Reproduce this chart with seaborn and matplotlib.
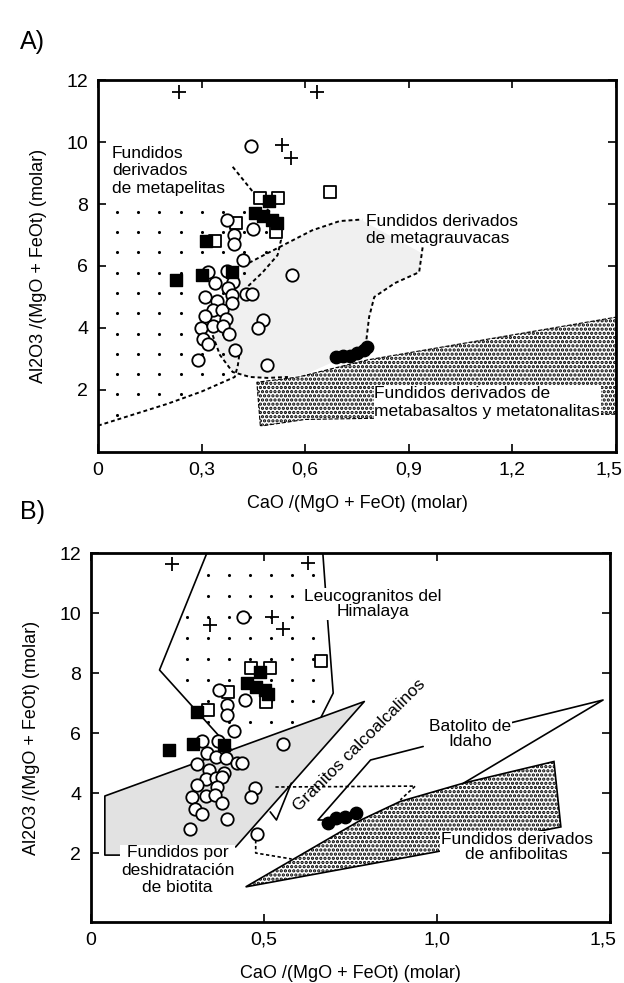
import numpy as np
import pandas as pd
import matplotlib
matplotlib.use("Agg")
import matplotlib.pyplot as plt
from matplotlib.path import Path
from matplotlib.transforms import ScaledTranslation
import seaborn as sns

sns.set_theme(style="white")
plt.rcParams['font.family'] = ['Liberation Sans', 'DejaVu Sans']
plt.rcParams['text.color'] = 'black'
plt.rcParams['axes.labelcolor'] = 'black'
plt.rcParams['hatch.linewidth'] = 1.6

# ---------------- Panel A data ----------------
a_cross_x = [0.234, 0.633, 0.532, 0.558]
a_cross_y = [11.6, 11.6, 9.9, 9.5]
a_osq_x = [0.468, 0.52, 0.673, 0.40, 0.34, 0.514]
a_osq_y = [8.2, 8.2, 8.4, 7.4, 6.8, 7.1]
a_fsq_x = [0.494, 0.454, 0.478, 0.503, 0.517, 0.312, 0.30, 0.225, 0.387]
a_fsq_y = [8.1, 7.7, 7.6, 7.5, 7.4, 6.8, 5.7, 5.55, 5.8]
a_oc_x = [0.442, 0.373, 0.393, 0.393, 0.448, 0.419, 0.318, 0.373, 0.338, 0.39,
          0.561, 0.376, 0.309, 0.344, 0.387, 0.428, 0.445, 0.332, 0.358, 0.387,
          0.309, 0.37, 0.477, 0.462, 0.298, 0.332, 0.361, 0.379, 0.303, 0.318,
          0.396, 0.289, 0.488]
a_oc_y = [9.87, 7.5, 7.0, 6.7, 7.2, 6.2, 5.8, 5.85, 5.45, 5.5,
          5.7, 5.3, 5.0, 4.87, 5.06, 5.1, 5.1, 4.58, 4.58, 4.8,
          4.39, 4.3, 4.26, 4.0, 4.0, 4.06, 4.06, 3.8, 3.65, 3.48,
          3.3, 2.97, 2.8]
a_fc_x = [0.69, 0.71, 0.73, 0.75, 0.77, 0.78]
a_fc_y = [3.05, 3.1, 3.1, 3.2, 3.3, 3.4]

# Panel A fields
a_pel_x = [0.0, 0.0, 0.39, 0.448, 0.50, 0.53, 0.52, 0.477, 0.43, 0.41, 0.40, 0.396]
a_pel_y = [0.85, 7.9, 9.2, 8.4, 7.7, 6.84, 6.35, 5.8, 5.3, 4.5, 3.2, 2.42]
a_pel_bx = [0.0, 0.10, 0.20, 0.30, 0.396, 0.405, 0.41]
a_pel_by = [0.85, 1.2, 1.55, 1.95, 2.42, 2.8, 3.2]
a_pel_tx = [0.39, 0.448, 0.50, 0.53, 0.52, 0.477, 0.43]
a_pel_ty = [9.2, 8.4, 7.7, 6.84, 6.35, 5.8, 5.3]
a_gr_x = [0.42, 0.48, 0.55, 0.62, 0.70, 0.76, 0.94, 0.93, 0.86, 0.80, 0.785, 0.777,
          0.70, 0.60, 0.55, 0.49, 0.44, 0.39, 0.353, 0.332, 0.40]
a_gr_y = [6.0, 6.35, 6.75, 7.15, 7.45, 7.5, 6.4, 5.8, 5.45, 5.0, 4.35, 3.6,
          3.0, 2.5, 2.42, 2.39, 2.42, 2.58, 3.13, 3.77, 4.8]
a_gr_top_x = [0.42, 0.48, 0.55, 0.62, 0.70, 0.765]
a_gr_top_y = [6.0, 6.35, 6.75, 7.15, 7.45, 7.5]
a_gr_r_x = [0.94, 0.935, 0.93, 0.86, 0.80, 0.785, 0.777]
a_gr_r_y = [6.6, 6.2, 5.8, 5.45, 5.0, 4.35, 3.6]
a_gr_b_x = [0.332, 0.353, 0.39, 0.44, 0.49, 0.55]
a_gr_b_y = [3.77, 3.13, 2.58, 2.42, 2.39, 2.42]
a_bas_x = [0.47, 0.46, 0.58, 0.78, 1.16, 1.5, 1.5, 0.60, 0.48]
a_bas_y = [0.85, 2.25, 2.42, 2.97, 3.7, 4.35, 1.22, 1.05, 0.85]

# ---------------- Panel B data ----------------
b_cross_x = [0.235, 0.627, 0.344, 0.522, 0.556]
b_cross_y = [11.63, 11.67, 9.6, 9.87, 9.47]
b_osq_x = [0.461, 0.516, 0.665, 0.395, 0.338, 0.507]
b_osq_y = [8.17, 8.17, 8.4, 7.37, 6.77, 7.03]
b_fsq_x = [0.487, 0.45, 0.478, 0.504, 0.513, 0.307, 0.295, 0.224, 0.384]
b_fsq_y = [8.03, 7.67, 7.53, 7.43, 7.3, 6.7, 5.63, 5.43, 5.6]
b_oc_x = [0.438, 0.37, 0.393, 0.393, 0.444, 0.413, 0.556, 0.321, 0.367, 0.335,
          0.36, 0.39, 0.307, 0.421, 0.436, 0.341, 0.384, 0.332, 0.361, 0.378,
          0.307, 0.364, 0.473, 0.292, 0.332, 0.358, 0.461, 0.378, 0.301, 0.321,
          0.393, 0.287, 0.481]
b_oc_y = [9.87, 7.43, 6.93, 6.6, 7.1, 6.07, 5.63, 5.73, 5.73, 5.33,
          5.2, 5.17, 4.97, 5.0, 5.0, 4.77, 4.67, 4.47, 4.5, 4.53,
          4.27, 4.2, 4.17, 3.87, 3.9, 3.93, 3.87, 3.67, 3.47, 3.3,
          3.13, 2.8, 2.63]
b_fc_x = [0.685, 0.708, 0.733, 0.765]
b_fc_y = [3.0, 3.17, 3.2, 3.33]

# Panel B fields
b_him_x = [0.335, 0.198, 0.407, 0.665, 0.70, 0.685, 0.67]
b_him_y = [12.0, 8.1, 5.43, 6.53, 7.33, 9.6, 12.0]
b_bio_x = [0.083, 0.04, 0.04, 0.79, 0.418]
b_bio_y = [1.93, 1.93, 3.9, 7.05, 2.2]
b_bio_fx = [0.04, 0.04, 0.79, 0.418, 0.35]
b_bio_fy = [1.93, 3.9, 7.05, 2.2, 1.95]
b_notch_x = [0.518, 0.536, 0.579]
b_notch_y = [3.37, 3.1, 4.33]
b_dash1_x = [0.476, 0.476, 0.58]
b_dash1_y = [2.43, 2.0, 1.8]
b_dash2_x = [0.533, 0.937, 0.894]
b_dash2_y = [4.2, 4.23, 3.77]
b_ida1_x = [0.74, 0.656, 0.808, 0.96]
b_ida1_y = [3.1, 3.1, 5.1, 5.55]
b_ida2_x = [1.21, 1.48, 1.077]
b_ida2_y = [6.33, 7.1, 4.33]
b_anf_x = [0.447, 0.78, 0.894, 1.077, 1.338, 1.358, 0.994]
b_anf_y = [0.87, 3.1, 3.72, 4.33, 5.05, 2.87, 2.03]

W, H = 624, 983
fig = plt.figure(figsize=(W / 100, H / 100), dpi=100)
axA = fig.add_axes([98 / W, 1 - 452 / H, (616 - 98) / W, 372 / H])
axB = fig.add_axes([91 / W, 1 - 922 / H, (610 - 91) / W, 369 / H])

FS = 12.5
MS = 70
LS = 1.2


def dot_grid(ax, px, py, x0, dx, y0, dy, ymax):
    path = Path(np.column_stack([px, py]))
    gx, gy = np.meshgrid(np.arange(x0, 1.6, dx), np.arange(y0, ymax, dy))
    pts = np.column_stack([gx.ravel(), gy.ravel()])
    inside = path.contains_points(pts)
    ax.scatter(pts[inside, 0], pts[inside, 1], s=5, color='black', lw=0, zorder=1)


def points(ax, cx, cy, osx, osy, fsx, fsy, ocx, ocy, fcx, fcy):
    sns.scatterplot(x=cx, y=cy, marker='+', s=110, color='black', linewidth=1.3, ax=ax, zorder=5)
    sns.scatterplot(x=osx, y=osy, marker='s', s=MS, facecolor='white', edgecolor='black', linewidth=1.3, ax=ax, zorder=5)
    sns.scatterplot(x=ocx, y=ocy, marker='o', s=MS + 10, facecolor='white', edgecolor='black', linewidth=1.3, ax=ax, zorder=6)
    sns.scatterplot(x=fsx, y=fsy, marker='s', s=MS, color='black', edgecolor='black', linewidth=1, ax=ax, zorder=7)
    sns.scatterplot(x=fcx, y=fcy, marker='o', s=MS + 10, color='black', edgecolor='black', linewidth=1, ax=ax, zorder=7)


def style_axes(ax, xt, xl, ylo):
    ax.set_xlim(0, 1.5)
    ax.set_ylim(ylo, 12)
    ax.set_xticks(xt)
    ax.set_xticklabels(xl)
    ax.set_yticks([2, 4, 6, 8, 10, 12])
    ax.set_yticklabels(['2', '4', '6', '8', '10', '12'])
    ax.tick_params(direction='in', length=6, width=1.2, top=True, right=True,
                   bottom=True, left=True, labelsize=14, pad=7, colors='black')
    for sp in ax.spines.values():
        sp.set_color('black')
        sp.set_linewidth(2)
    ax.set_xlabel('CaO /(MgO + FeOt) (molar)', fontsize=13, labelpad=12)
    ax.set_ylabel('Al2O3 /(MgO + FeOt) (molar)', fontsize=13, labelpad=14)
    last = ax.get_xticklabels()[-1]
    last.set_transform(last.get_transform() + ScaledTranslation(-0.07, 0, fig.dpi_scale_trans))


# ---------- Panel A ----------
ax = axA
ax.fill(a_gr_x, a_gr_y, facecolor='#f0f0f0', edgecolor='none', zorder=0)
dot_grid(ax, a_pel_x, a_pel_y, 0.055, 0.0615, 1.2, 0.655, 8.0)
ax.fill(a_bas_x, a_bas_y, facecolor='white', edgecolor='black', hatch='....', lw=0.8, ls='--', zorder=2)
for xs, ys in [(a_pel_bx, a_pel_by), (a_pel_tx, a_pel_ty), (a_gr_top_x, a_gr_top_y),
               (a_gr_r_x, a_gr_r_y), (a_gr_b_x, a_gr_b_y)]:
    ax.plot(xs, ys, color='black', ls=(0, (2, 1.5)), lw=1.4, zorder=3)
points(ax, a_cross_x, a_cross_y, a_osq_x, a_osq_y, a_fsq_x, a_fsq_y, a_oc_x, a_oc_y, a_fc_x, a_fc_y)
ax.text(0.04, 9.07, 'Fundidos\nderivados\nde metapelitas', fontsize=FS, ha='left', va='center',
        linespacing=LS, zorder=8)
ax.text(0.775, 7.16, 'Fundidos derivados\nde metagrauvacas', fontsize=FS, ha='left', va='center',
        linespacing=LS, zorder=8)
ax.text(0.80, 1.6, 'Fundidos derivados de\nmetabasaltos y metatonalitas', fontsize=FS, ha='left',
        va='center', linespacing=LS, zorder=8,
        bbox=dict(facecolor='white', edgecolor='none', pad=0.5))
style_axes(ax, [0, 0.3, 0.6, 0.9, 1.2, 1.5], ['0', '0,3', '0,6', '0,9', '1,2', '1,5'], 0)
fig.text(20 / W, 1 - 42 / H, 'A)', fontsize=18, ha='left', va='center')

# ---------- Panel B ----------
ax = axB
ax.fill(b_bio_fx, b_bio_fy, facecolor='#e2e2e2', edgecolor='none', zorder=0)
ax.plot(b_bio_x, b_bio_y, color='black', lw=1.2, zorder=3)
dot_grid(ax, b_him_x, b_him_y, 0.278, 0.0605, 6.37, 0.7, 11.5)
ax.plot(b_him_x[:3], b_him_y[:3], color='black', lw=1.2, zorder=3)
ax.plot(b_him_x[3:], b_him_y[3:], color='black', lw=1.2, zorder=3)
ax.fill(b_anf_x, b_anf_y, facecolor='white', edgecolor='black', hatch='....', lw=1.2, zorder=2)
ax.plot(b_notch_x, b_notch_y, color='black', lw=1.2, zorder=3)
ax.plot(b_dash1_x, b_dash1_y, color='black', lw=1.2, ls=(0, (2, 1.5)), zorder=3)
ax.plot(b_dash2_x, b_dash2_y, color='black', lw=1.2, ls=(0, (2, 1.5)), zorder=3)
ax.plot(b_ida1_x, b_ida1_y, color='black', lw=1.2, zorder=3)
ax.plot(b_ida2_x, b_ida2_y, color='black', lw=1.2, zorder=3)
points(ax, b_cross_x, b_cross_y, b_osq_x, b_osq_y, b_fsq_x, b_fsq_y, b_oc_x, b_oc_y, b_fc_x, b_fc_y)
ax.text(0.814, 10.3, 'Leucogranitos del\nHimalaya', fontsize=FS, ha='center', va='center',
        linespacing=1.05, zorder=8, bbox=dict(facecolor='white', edgecolor='none', pad=0.5))
ax.text(0.776, 5.6, 'Granitos calcoalcalinos', fontsize=FS, ha='center', va='center',
        rotation=45, rotation_mode='anchor', zorder=8)
ax.text(1.095, 5.97, 'Batolito de\nIdaho', fontsize=FS, ha='center', va='center',
        linespacing=1.05, zorder=8, bbox=dict(facecolor='white', edgecolor='none', pad=0.5))
ax.text(1.23, 2.2, 'Fundidos derivados\nde anfibolitas', fontsize=FS, ha='center', va='center',
        linespacing=1.05, zorder=8, bbox=dict(facecolor='white', edgecolor='none', pad=0.5))
ax.text(0.25, 1.43, 'Fundidos por\ndeshidratación\nde biotita', fontsize=FS, ha='center', va='center',
        linespacing=LS, zorder=8, bbox=dict(facecolor='white', edgecolor='none', pad=0.5))
style_axes(ax, [0, 0.5, 1.0, 1.5], ['0', '0,5', '1,0', '1,5'], -0.3)
fig.text(20 / W, 1 - 512 / H, 'B)', fontsize=18, ha='left', va='center')

fig.savefig('out.png', dpi=100)
